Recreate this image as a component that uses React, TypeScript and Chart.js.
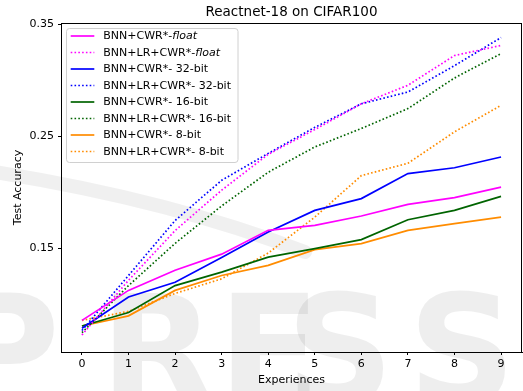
import React, { useEffect, useRef } from "react";
import { Chart, registerables } from "chart.js";

Chart.register(...registerables);

// Experience index on the x axis
const experiences = [0, 1, 2, 3, 4, 5, 6, 7, 8, 9];

// Test accuracy per experience
const floatCwr = [0.086, 0.1127, 0.1306, 0.145, 0.1662, 0.1707, 0.179, 0.1894, 0.1954, 0.2048];
const floatLrCwr = [0.073, 0.1217, 0.166, 0.202, 0.234, 0.256, 0.279, 0.2955, 0.322, 0.331];
const bit32Cwr = [0.079, 0.1068, 0.12, 0.142, 0.1647, 0.184, 0.1945, 0.2168, 0.222, 0.2316];
const bit32LrCwr = [0.077, 0.126, 0.175, 0.2108, 0.2348, 0.258, 0.279, 0.2895, 0.313, 0.338];
const bit16Cwr = [0.081, 0.093, 0.117, 0.129, 0.1424, 0.15, 0.158, 0.1757, 0.184, 0.1965];
const bit16LrCwr = [0.075, 0.117, 0.1546, 0.188, 0.218, 0.2405, 0.257, 0.2747, 0.302, 0.3237];
const bit8Cwr = [0.081, 0.09, 0.1127, 0.126, 0.135, 0.149, 0.1544, 0.1662, 0.1722, 0.178];
const bit8LrCwr = [0.086, 0.094, 0.11, 0.123, 0.146, 0.178, 0.215, 0.226, 0.254, 0.2776];

const yTickValues = [0.15, 0.25, 0.35];

// Legend text: plain part + optional italic suffix
const seriesLabels: [string, string][] = [
  ["BNN+CWR*-", "float"],
  ["BNN+LR+CWR*-", "float"],
  ["BNN+CWR*- 32-bit", ""],
  ["BNN+LR+CWR*- 32-bit", ""],
  ["BNN+CWR*- 16-bit", ""],
  ["BNN+LR+CWR*- 16-bit", ""],
  ["BNN+CWR*- 8-bit", ""],
  ["BNN+LR+CWR*- 8-bit", ""],
];

const seriesValues = [floatCwr, floatLrCwr, bit32Cwr, bit32LrCwr, bit16Cwr, bit16LrCwr, bit8Cwr, bit8LrCwr];
const seriesColors = ["#ff00ff", "#ff00ff", "#0000ff", "#0000ff", "#006400", "#006400", "#ff8c00", "#ff8c00"];
const seriesDotted = [false, true, false, true, false, true, false, true];

const FONT = '"DejaVu Sans", Verdana, sans-serif';
const DOT_DASH = [1.6, 2.2];

const decorPlugin = {
  id: "decor",
  beforeDraw(chart: any) {
    const { ctx, width, height } = chart;
    ctx.save();
    ctx.fillStyle = "#ffffff";
    ctx.fillRect(0, 0, width, height);
    // faint publisher mark in the background
    ctx.strokeStyle = "rgba(0,0,0,0.06)";
    ctx.lineWidth = 14;
    ctx.lineCap = "round";
    ctx.beginPath();
    ctx.moveTo(-5, 172);
    ctx.quadraticCurveTo(170, 200, 305, 252);
    ctx.stroke();
    ctx.fillStyle = "rgba(0,0,0,0.065)";
    ctx.font = `bold 150px ${FONT}`;
    ctx.textBaseline = "alphabetic";
    const letters: [string, number][] = [["P", -50], ["R", 100], ["E", 218], ["S", 286], ["S", 408]];
    letters.forEach(([ch, x]) => ctx.fillText(ch, x, 402));
    ctx.restore();
  },
  afterDraw(chart: any) {
    const { ctx, chartArea } = chart;
    const { left, right, top, bottom } = chartArea;
    ctx.save();
    // frame
    ctx.strokeStyle = "#000000";
    ctx.lineWidth = 1;
    ctx.strokeRect(Math.round(left) + 0.5, Math.round(top) + 0.5, Math.round(right - left) - 1, Math.round(bottom - top));

    // title and axis titles
    ctx.fillStyle = "#000000";
    ctx.textAlign = "center";
    ctx.textBaseline = "middle";
    ctx.font = `13.5px ${FONT}`;
    ctx.fillText("Reactnet-18 on CIFAR100", (left + right) / 2, 12);
    ctx.font = `11px ${FONT}`;
    ctx.fillText("Experiences", (left + right) / 2, 380);
    ctx.translate(18, (top + bottom) / 2);
    ctx.rotate(-Math.PI / 2);
    ctx.fillText("Test Accuracy", 0, 0);
    ctx.restore();

    // legend
    ctx.save();
    const bx = 66.5, by = 28.5, bw = 171.5, bh = 134;
    const r = 3;
    ctx.beginPath();
    ctx.moveTo(bx + r, by);
    ctx.arcTo(bx + bw, by, bx + bw, by + bh, r);
    ctx.arcTo(bx + bw, by + bh, bx, by + bh, r);
    ctx.arcTo(bx, by + bh, bx, by, r);
    ctx.arcTo(bx, by, bx + bw, by, r);
    ctx.closePath();
    ctx.fillStyle = "rgba(255,255,255,0.8)";
    ctx.fill();
    ctx.strokeStyle = "#d0d0d0";
    ctx.lineWidth = 1;
    ctx.stroke();

    ctx.textBaseline = "middle";
    ctx.textAlign = "left";
    seriesLabels.forEach(([plain, italic], i) => {
      const y = 36 + i * 16.5;
      ctx.beginPath();
      ctx.strokeStyle = seriesColors[i];
      ctx.lineWidth = 1.7;
      ctx.setLineDash(seriesDotted[i] ? DOT_DASH : []);
      ctx.moveTo(70.7, y);
      ctx.lineTo(94.3, y);
      ctx.stroke();
      ctx.setLineDash([]);
      ctx.fillStyle = "#000000";
      ctx.font = `11px ${FONT}`;
      ctx.fillText(plain, 103.3, y + 0.5);
      if (italic) {
        const w = ctx.measureText(plain).width;
        ctx.font = `italic 11px ${FONT}`;
        ctx.fillText(italic, 103.3 + w, y + 0.5);
      }
    });
    ctx.restore();
  },
};

export default function App() {
  const canvasRef = useRef<HTMLCanvasElement | null>(null);

  useEffect(() => {
    const canvas = canvasRef.current;
    if (!canvas) return;
    const chart = new Chart(canvas, {
      type: "line",
      data: {
        datasets: seriesValues.map((vals, i) => ({
          label: seriesLabels[i].join(""),
          data: experiences.map((x, j) => ({ x, y: vals[j] })),
          borderColor: seriesColors[i],
          backgroundColor: seriesColors[i],
          borderWidth: 1.7,
          borderDash: seriesDotted[i] ? DOT_DASH : [],
          pointRadius: 0,
          tension: 0,
          fill: false,
        })),
      },
      options: {
        animation: false,
        responsive: false,
        devicePixelRatio: 1,
        layout: { padding: { top: 23, right: 1, left: 0, bottom: 0 } },
        plugins: {
          legend: { display: false },
          title: { display: false },
          tooltip: { enabled: false },
        },
        scales: {
          x: {
            type: "linear",
            min: -0.45,
            max: 9.45,
            afterBuildTicks: (scale: any) => {
              scale.ticks = experiences.map((v) => ({ value: v }));
            },
            afterFit: (scale: any) => {
              scale.height = 39;
            },
            ticks: {
              autoSkip: false,
              maxRotation: 0,
              padding: 3,
              color: "#000000",
              font: { family: FONT, size: 11 },
              callback: (v: any) => String(v),
            },
            grid: {
              display: true,
              drawOnChartArea: false,
              drawTicks: true,
              tickLength: 3,
              tickColor: "#000000",
            },
            border: { display: true, color: "#000000", width: 1 },
          },
          y: {
            type: "linear",
            min: 0.0578,
            max: 0.351,
            afterBuildTicks: (scale: any) => {
              scale.ticks = yTickValues.map((v) => ({ value: v }));
            },
            afterFit: (scale: any) => {
              scale.width = 61;
            },
            ticks: {
              autoSkip: false,
              padding: 4,
              color: "#000000",
              font: { family: FONT, size: 11 },
              callback: (v: any) => Number(v).toFixed(2),
            },
            grid: {
              display: true,
              drawOnChartArea: false,
              drawTicks: true,
              tickLength: 3,
              tickColor: "#000000",
            },
            border: { display: true, color: "#000000", width: 1 },
          },
        },
      },
      plugins: [decorPlugin],
    });
    return () => chart.destroy();
  }, []);

  return (
    <div style={{ position: "absolute", left: 0, top: 0, width: 523, height: 391 }}>
      <canvas ref={canvasRef} width={523} height={391} style={{ display: "block" }} />
    </div>
  );
}
